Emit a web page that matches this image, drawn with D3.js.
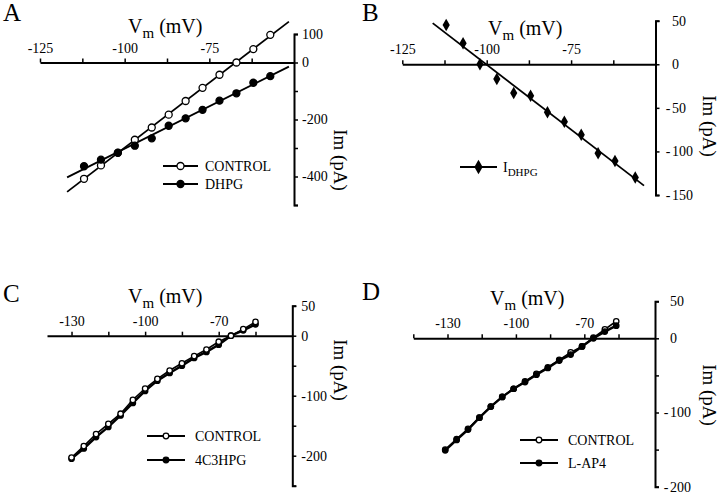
<!DOCTYPE html>
<html>
<head>
<meta charset="utf-8">
<script src="https://cdn.jsdelivr.net/npm/d3@7"></script>
<style>
  html, body { margin: 0; padding: 0; background: #fff; }
  svg { display: block; }
  text { font-family: "Liberation Serif", "Times New Roman", serif; fill: #000; }
</style>
</head>
<body>
<svg id="chart" width="720" height="495"></svg>
<script>
// ---------------- DATA ----------------
// Panel A
const voltsA = [-112, -107, -102, -97, -92, -87, -82, -77, -72, -67, -62, -57];
const controlA = [-408, -361, -316, -271, -228, -183, -135, -89, -43, 0, 47, 97];
const dhpgA = [-364, -341, -317, -292, -266, -222, -196, -166, -134, -108, -71, -48];
const fitRangeA = [-117, -51.5];
// Panel B
const voltsB = [-112, -107, -102, -97, -92, -87, -82, -77, -72, -67, -62, -56];
const idhpgB = [45, 24, 0, -17, -33, -36, -55, -66, -81, -102, -111, -130];
const fitRangeB = [-116, -53.4];
// Panel C
const voltsC = [-130, -125, -120, -115, -110, -105, -100, -95, -90, -85, -80, -75, -70, -65, -60, -55];
const controlC = [-203, -184, -164, -147, -130, -107, -88, -72, -58, -46, -34, -23, -10, 0, 11, 23];
const hpgC = [-205, -188, -169, -152, -133, -112, -92, -75, -62, -50, -37, -27, -15, 0, 9, 19];
// Panel D
const voltsD = [-131, -126, -121, -116, -111, -106, -101, -96, -91, -86, -81, -76, -71, -66, -61, -56];
const controlD = [-150, -136, -122, -107, -92, -79, -68, -58, -48, -39, -29, -19, -11, 1, 12, 23];
const lap4D = [-151, -137, -123, -107, -92, -79, -68, -59, -49, -40, -30, -22, -11, 0, 9, 17];

// Ticks
const xTicksAB = [-125, -112.5, -100, -87.5, -75, -62.5];
const xLabelsAB = [-125, -100, -75];
const xTicksC = [-130, -115, -100, -85, -70, -55];
const xTicksD = [-145, -130, -115, -100, -85, -70, -55];
const xLabelsCD = [-130, -100, -70];
const yTicksA = [100, 0, -100, -200, -300, -400, -500];
const yLabelsA = [100, 0, -200, -400];
const yTicksB = [50, 0, -50, -100, -150];
const yLabelsB = [50, 0, -50, -100, -150];
const yTicksC = [50, 0, -50, -100, -150, -200, -250];
const yLabelsC = [50, 0, -100, -200];
const yTicksD = [50, 0, -50, -100, -150, -200];
const yLabelsD = [50, 0, -100, -200];

const legendA = ["CONTROL", "DHPG"];
const legendC = ["CONTROL", "4C3HPG"];
const legendD = ["CONTROL", "L-AP4"];

// ---------------- DRAW ----------------
const svg = d3.select("#chart");

function linFit(xs, ys) {
  const mx = d3.mean(xs), my = d3.mean(ys);
  let num = 0, den = 0;
  xs.forEach((x, i) => { num += (x - mx) * (ys[i] - my); den += (x - mx) * (x - mx); });
  const b = num / den;
  return x => my + b * (x - mx);
}

function panel(cfg) {
  const g = svg.append("g");
  const x = d3.scaleLinear().domain(cfg.xDomain).range(cfg.xRange);
  const y = d3.scaleLinear().domain(cfg.yDomain).range(cfg.yRange);
  const y0 = y(0), xAxisPos = cfg.xRange[1];

  // X axis (ticks upward, labels above)
  const xa = g.append("g").attr("transform", `translate(0,${y0})`)
    .call(d3.axisTop(x).tickValues(cfg.xTicks).tickSize(4).tickSizeOuter(0).tickPadding(6)
      .tickFormat(d => cfg.xLabels.includes(d) ? String(d) : ""));
  xa.select(".domain").attr("stroke", "#000").attr("stroke-width", 2);
  xa.selectAll(".tick line").attr("stroke", "#000").attr("stroke-width", 1.5);
  xa.selectAll("text").attr("font-size", 14).attr("fill", "#000");

  // Y axis (ticks right, labels right)
  const ya = g.append("g").attr("transform", `translate(${xAxisPos},0)`)
    .call(d3.axisRight(y).tickValues(cfg.yTicks).tickSize(4).tickSizeOuter(4).tickPadding(cfg.yPad)
      .tickFormat(d => cfg.yLabels.includes(d) ? String(d === 0 ? 0 : (cfg.hangMinus ? Math.abs(d) : d)) : ""));
  ya.select(".domain").attr("stroke", "#000").attr("stroke-width", 2);
  ya.selectAll(".tick line").attr("stroke", "#000").attr("stroke-width", 1.5);
  ya.selectAll("text").attr("font-size", 14).attr("fill", "#000");
  if (cfg.hangMinus) {
    ya.selectAll(".tick").each(function(d) {
      if (d < 0 && cfg.yLabels.includes(d)) {
        d3.select(this).append("text").attr("x", 4 + cfg.yPad - 1.5).attr("dy", "0.32em")
          .attr("text-anchor", "end").attr("font-size", 14).attr("fill", "#000").text("-");
      }
    });
  }

  // Vm title
  const t = g.append("text").attr("x", cfg.titleX).attr("y", cfg.titleY).attr("font-size", 20);
  t.append("tspan").text("V");
  t.append("tspan").attr("font-size", 15).attr("dy", 5).text("m");
  t.append("tspan").attr("dy", -5).text(" (mV)");

  // Y title (rotated, reads top to bottom)
  g.append("text").attr("transform", `translate(${cfg.ylabX},${cfg.ylabY}) rotate(90)`)
    .attr("text-anchor", "middle").attr("font-size", 19).text("Im (pA)");

  // Panel letter
  g.append("text").attr("x", cfg.letterX).attr("y", cfg.letterY).attr("font-size", 25).text(cfg.letter);

  return { g, x, y };
}

function circles(g, x, y, xs, ys, r, open) {
  g.append("g").selectAll("circle").data(xs).join("circle")
    .attr("cx", d => x(d)).attr("cy", (d, i) => y(ys[i])).attr("r", r)
    .attr("fill", open ? "#fff" : "#000").attr("stroke", "#000").attr("stroke-width", 1.3);
}

function legendRow(g, x1, x2, yy, label, open, r, tx, kind) {
  g.append("line").attr("x1", x1).attr("x2", x2).attr("y1", yy).attr("y2", yy)
    .attr("stroke", "#000").attr("stroke-width", 2.2);
  const cx = (x1 + x2) / 2;
  if (kind === "diamond") {
    g.append("path").attr("d", d3.symbol(d3.symbolDiamond, 60)()).attr("transform", `translate(${cx},${yy})`).attr("fill", "#000");
  } else {
    g.append("circle").attr("cx", cx).attr("cy", yy).attr("r", r)
      .attr("fill", open ? "#fff" : "#000").attr("stroke", "#000").attr("stroke-width", 1.3);
  }
  return g.append("text").attr("x", tx).attr("y", yy + 5).attr("font-size", 14).text(label);
}

// Panel A
(function() {
  const { g, x, y } = panel({
    xDomain: [-125, -50], xRange: [40, 294], yDomain: [100, -500], yRange: [34, 205],
    xTicks: xTicksAB, xLabels: xLabelsAB, yTicks: yTicksA, yLabels: yLabelsA, yPad: 4, hangMinus: false,
    titleX: 128, titleY: 33, ylabX: 334, ylabY: 160, letter: "A", letterX: 3, letterY: 21
  });
  const fc = linFit(voltsA, controlA), fd = linFit(voltsA, dhpgA);
  const line = d3.line().x(d => x(d[0])).y(d => y(d[1]));
  g.append("path").attr("d", line(fitRangeA.map(v => [v, fc(v)]))).attr("stroke", "#000").attr("stroke-width", 1.8).attr("fill", "none");
  g.append("path").attr("d", line(fitRangeA.map(v => [v, fd(v)]))).attr("stroke", "#000").attr("stroke-width", 1.8).attr("fill", "none");
  circles(g, x, y, voltsA, controlA, 3.5, true);
  circles(g, x, y, voltsA, dhpgA, 3.5, false);
  legendRow(g, 163, 198, 166, legendA[0], true, 3.5, 205);
  legendRow(g, 163, 198, 184, legendA[1], false, 3.5, 205);
})();

// Panel B
(function() {
  const { g, x, y } = panel({
    xDomain: [-125, -50], xRange: [402.3, 655.5], yDomain: [50, -150], yRange: [20.7, 195],
    xTicks: xTicksAB, xLabels: xLabelsAB, yTicks: yTicksB, yLabels: yLabelsB, yPad: 12.5, hangMinus: true,
    titleX: 488, titleY: 35, ylabX: 703, ylabY: 126, letter: "B", letterX: 362, letterY: 21
  });
  const f = linFit(voltsB, idhpgB);
  const line = d3.line().x(d => x(d[0])).y(d => y(d[1]));
  g.append("path").attr("d", line(fitRangeB.map(v => [v, f(v)]))).attr("stroke", "#000").attr("stroke-width", 1.8).attr("fill", "none");
  g.append("g").selectAll("path").data(voltsB).join("path")
    .attr("d", d3.symbol(d3.symbolDiamond, 45)())
    .attr("transform", (d, i) => `translate(${x(d)},${y(idhpgB[i])})`).attr("fill", "#000");
  const t = legendRow(g, 460, 497, 167, "I", false, 0, 503, "diamond");
  t.append("tspan").attr("font-size", 11).attr("dy", 4).text("DHPG");
})();

// Panel C
(function() {
  const { g, x, y } = panel({
    xDomain: [-140, -40], xRange: [47, 292.3], yDomain: [50, -250], yRange: [305.7, 485.7],
    xTicks: xTicksC, xLabels: xLabelsCD, yTicks: yTicksC, yLabels: yLabelsC, yPad: 5, hangMinus: false,
    titleX: 128, titleY: 303, ylabX: 334, ylabY: 370, letter: "C", letterX: 3, letterY: 302
  });
  const line = d3.line().x(d => x(d[0])).y(d => y(d[1]));
  g.append("path").attr("d", line(voltsC.map((v, i) => [v, controlC[i]]))).attr("stroke", "#000").attr("stroke-width", 1.6).attr("fill", "none");
  g.append("path").attr("d", line(voltsC.map((v, i) => [v, hpgC[i]]))).attr("stroke", "#000").attr("stroke-width", 2.4).attr("fill", "none");
  circles(g, x, y, voltsC, hpgC, 2.7, false);
  circles(g, x, y, voltsC, controlC, 2.7, true);
  legendRow(g, 147, 185, 436, legendC[0], true, 2.8, 195);
  legendRow(g, 147, 185, 460, legendC[1], false, 2.8, 195);
})();

// Panel D
(function() {
  const { g, x, y } = panel({
    xDomain: [-145, -39], xRange: [413.3, 655], yDomain: [50, -200], yRange: [301.2, 486.7],
    xTicks: xTicksD, xLabels: xLabelsCD, yTicks: yTicksD, yLabels: yLabelsD, yPad: 11, hangMinus: true,
    titleX: 490, titleY: 305, ylabX: 703, ylabY: 395, letter: "D", letterX: 362, letterY: 300
  });
  const line = d3.line().x(d => x(d[0])).y(d => y(d[1]));
  g.append("path").attr("d", line(voltsD.map((v, i) => [v, controlD[i]]))).attr("stroke", "#000").attr("stroke-width", 1.6).attr("fill", "none");
  g.append("path").attr("d", line(voltsD.map((v, i) => [v, lap4D[i]]))).attr("stroke", "#000").attr("stroke-width", 2.4).attr("fill", "none");
  circles(g, x, y, voltsD, controlD, 2.7, true);
  circles(g, x, y, voltsD, lap4D, 2.7, false);
  legendRow(g, 520, 558, 440, legendD[0], true, 2.8, 568);
  legendRow(g, 520, 558, 463, legendD[1], false, 2.8, 568);
})();
</script>
</body>
</html>
